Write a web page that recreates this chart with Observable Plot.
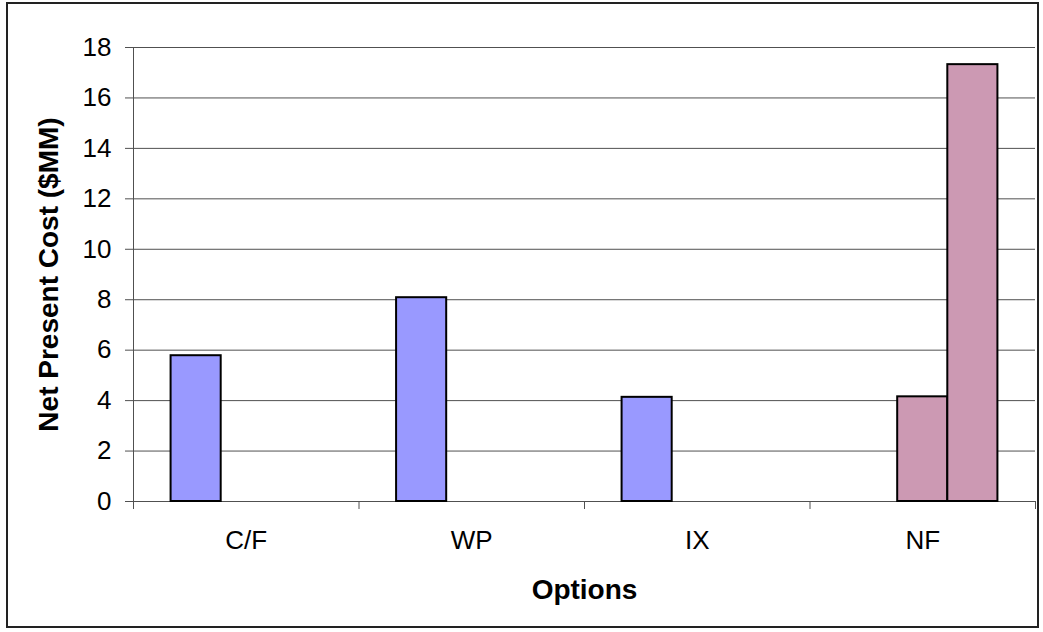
<!DOCTYPE html>
<html>
<head>
<meta charset="utf-8">
<script src="https://cdn.jsdelivr.net/npm/d3@7"></script>
<script src="https://cdn.jsdelivr.net/npm/@observablehq/plot@0.6"></script>
<style>
  html, body { margin: 0; padding: 0; background: #fff; }
  #wrap { position: relative; width: 1043px; height: 632px; }
  #border { position: absolute; left: 6px; top: 2px; width: 1029px; height: 622px; border: 2px solid #222; pointer-events: none; }
  #chart svg { display: block; }
</style>
</head>
<body>
<div id="wrap"><div id="chart"></div><div id="border"></div></div>
<script>
const categories = ["C/F", "WP", "IX", "NF"];
const seriesNames = ["Series1", "Series2", "Series3"];
const series1 = [5.78, 8.08, 4.13, null];
const series2 = [null, null, null, 4.15];
const series3 = [null, null, null, 17.32];
const seriesColors = ["#9999FF", "#CC99B3", "#CC99B3"];
const yTicks = [0, 2, 4, 6, 8, 10, 12, 14, 16, 18];
const yTitle = "Net Present Cost ($MM)";
const xTitle = "Options";

// Excel-style clustered layout: gap width of 150% of a bar
const gapWidth = 1.5;
const allSeries = [series1, series2, series3];
const rows = [];
allSeries.forEach((vals, j) => vals.forEach((v, i) => {
  if (v != null) rows.push({category: categories[i], ci: i, series: seriesNames[j], sj: j, value: v});
}));
const slots = seriesNames.length + gapWidth;
const bx1 = d => d.ci + (gapWidth / 2 + d.sj) / slots;
const bx2 = d => d.ci + (gapWidth / 2 + d.sj + 1) / slots;
const axisColor = "#505050";

const chart = Plot.plot({
  width: 1043,
  height: 632,
  marginLeft: 133,
  marginRight: 8,
  marginTop: 47,
  marginBottom: 131,
  style: {fontFamily: "'Liberation Sans', Arial, sans-serif", fontSize: "26px", background: "transparent", color: "#000"},
  x: {domain: [0, categories.length], axis: null},
  y: {domain: [0, 18], axis: null},
  color: {domain: seriesNames, range: seriesColors},
  marks: [
    Plot.gridY(yTicks, {stroke: axisColor, strokeOpacity: 1}),
    Plot.axisY(yTicks, {tickSize: 8, tickPadding: 14, stroke: axisColor, label: null, fontSize: 26, fill: "#000"}),
    Plot.axisX(d3.range(categories.length + 1), {tickSize: 8, tickFormat: () => "", label: null, stroke: axisColor}),
    Plot.axisX(categories.map((c, i) => i + 0.5), {tickSize: 0, tickPadding: 29, tickFormat: d => categories[Math.floor(d)], label: null, fontSize: 26, fill: "#000"}),
    Plot.ruleX([0], {stroke: axisColor}),
    Plot.ruleY([0], {stroke: axisColor}),
    Plot.rectY(rows, {x1: bx1, x2: bx2, y: "value", fill: "series", stroke: "#000", strokeWidth: 2}),
    Plot.text([yTitle], {text: d => d, frameAnchor: "left", textAnchor: "middle", rotate: -90, dx: -84, fontWeight: "bold", fontSize: 28, fill: "#000"}),
    Plot.text([xTitle], {text: d => d, frameAnchor: "bottom", textAnchor: "middle", dy: 78, lineAnchor: "top", fontWeight: "bold", fontSize: 28, fill: "#000"})
  ]
});
document.getElementById("chart").appendChild(chart);
</script>
</body>
</html>
